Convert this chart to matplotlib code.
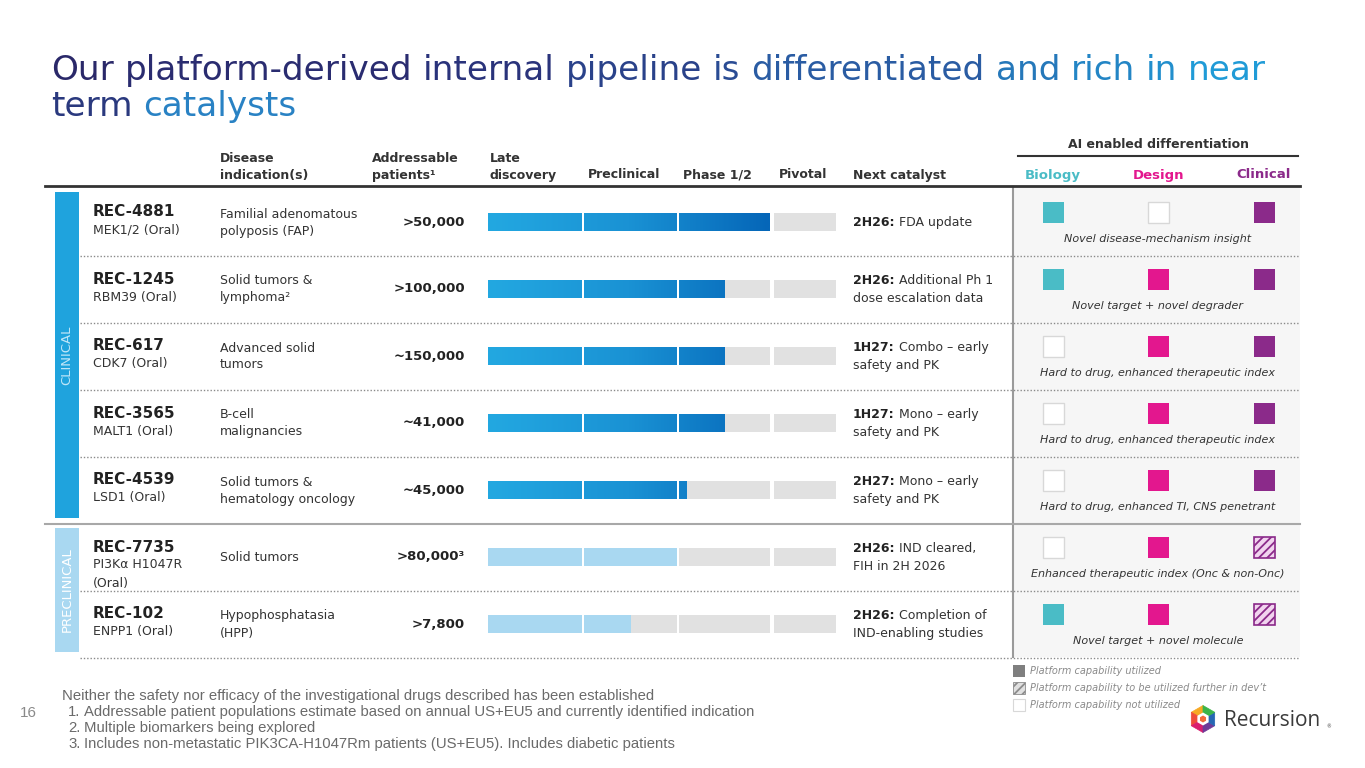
import matplotlib
matplotlib.use('Agg')
import matplotlib.pyplot as plt
import matplotlib.patches as mpatches
from matplotlib.colors import LinearSegmentedColormap
from matplotlib.font_manager import FontProperties
import numpy as np

# ---- data ----
title_lines = ['Our platform-derived internal pipeline is differentiated and rich in near',
               'term catalysts']
names = ['REC-4881', 'REC-1245', 'REC-617', 'REC-3565', 'REC-4539', 'REC-7735', 'REC-102']
targets = [['MEK1/2 (Oral)'], ['RBM39 (Oral)'], ['CDK7 (Oral)'], ['MALT1 (Oral)'],
           ['LSD1 (Oral)'], ['PI3Kα H1047R', '(Oral)'], ['ENPP1 (Oral)']]
indications = [['Familial adenomatous', 'polyposis (FAP)'], ['Solid tumors &', 'lymphoma²'],
               ['Advanced solid', 'tumors'], ['B-cell', 'malignancies'],
               ['Solid tumors &', 'hematology oncology'], ['Solid tumors'],
               ['Hypophosphatasia', '(HPP)']]
patients = ['>50,000', '>100,000', '~150,000', '~41,000', '~45,000', '>80,000³', '>7,800']
stages = ['Late\ndiscovery', 'Preclinical', 'Phase 1/2', 'Pivotal']
# progress measured in stages completed (1 = late discovery done, ...)
progress = [3.0, 2.5, 2.5, 2.5, 2.08, 2.0, 1.5]
is_clinical = [True, True, True, True, True, False, False]
catalyst_when = ['2H26:', '2H26:', '1H27:', '1H27:', '2H27:', '2H26:', '2H26:']
catalyst_what = [['FDA update'], ['Additional Ph 1', 'dose escalation data'],
                 ['Combo – early', 'safety and PK'], ['Mono – early', 'safety and PK'],
                 ['Mono – early', 'safety and PK'], ['IND cleared,', 'FIH in 2H 2026'],
                 ['Completion of', 'IND-enabling studies']]
# 1 = utilized, 0 = not utilized, 2 = to be utilized further in dev't
biology = [1, 1, 0, 0, 0, 0, 1]
design = [0, 1, 1, 1, 1, 1, 1]
clinical = [1, 1, 1, 1, 1, 2, 2]
captions = ['Novel disease-mechanism insight', 'Novel target + novel degrader',
            'Hard to drug, enhanced therapeutic index', 'Hard to drug, enhanced therapeutic index',
            'Hard to drug, enhanced TI, CNS penetrant', 'Enhanced therapeutic index (Onc & non-Onc)',
            'Novel target + novel molecule']
footnotes = ['Neither the safety nor efficacy of the investigational drugs described has been established',
             'Addressable patient populations estimate based on annual US+EU5 and currently identified indication',
             'Multiple biomarkers being explored',
             'Includes non-metastatic PIK3CA-H1047Rm patients (US+EU5). Includes diabetic patients']
legend_labels = ['Platform capability utilized', 'Platform capability to be utilized further in dev’t',
                 'Platform capability not utilized']

# ---- style ----
TXT = '#333333'
BLUE = '#1fa3dd'
LIGHTBLUE = '#a9d8f1'
GREY_BAR = '#e1e1e1'
TEAL = '#4abcc6'
PINK = '#e3178e'
PURPLE = '#8b2a8a'
plt.rcParams['font.family'] = 'DejaVu Sans'
plt.rcParams['hatch.linewidth'] = 1.3

fig = plt.figure(figsize=(13.65, 7.68), dpi=100)
ax = fig.add_axes([0, 0, 1, 1])
ax.set_xlim(0, 1365)
ax.set_ylim(768, 0)
ax.axis('off')
renderer = fig.canvas.get_renderer()

row_y = 222 + 67 * np.arange(len(names))
stage_left = [488, 584, 679, 774]
stage_width = [94, 93, 91, 62]
bar_h = 18


def text_w(s, size, weight='normal'):
    # width in pixels (figure is 1 px per data unit)
    fp = FontProperties(family='DejaVu Sans', size=size, weight=weight)
    return renderer.get_text_width_height_descent(s, fp, ismath=False)[0]


# title, word by word along a navy -> blue gradient
title_cmaps = [LinearSegmentedColormap.from_list('t1', ['#2a2868', '#2a2f78', '#2a5aa2', '#1fa2dc']),
               LinearSegmentedColormap.from_list('t2', ['#2a2868', '#2a4a95', '#2a80c2', '#1fa2dc'])]
tsize = 22 * (1265 - 51) / text_w(title_lines[0], 22)
for line, base, cm in zip(title_lines, [80, 116], title_cmaps):
    words = line.split(' ')
    full = text_w(line, tsize)
    for k, wd in enumerate(words):
        if k == 0:
            xw = 0
        else:
            xw = text_w(' '.join(words[:k]) + ' ' + wd, tsize) - text_w(wd, tsize)
        mid = xw + text_w(wd, tsize) / 2
        ax.text(51 + xw, base, wd, fontsize=tsize, va='baseline', color=cm(mid / full))

# right panel background + frame lines
ax.add_patch(mpatches.Rectangle((1014, 187), 286, 470, facecolor='#f6f6f6', edgecolor='none', zorder=0))
ax.plot([1013, 1013], [187, 657], color='#9a9a9a', lw=1.5, zorder=1)
ax.plot([45, 1300], [186, 186], color='#333333', lw=2, zorder=2)
ax.plot([1018, 1298], [156, 156], color='#333333', lw=1.5, zorder=2)
for i, y in enumerate(row_y):
    yl = y + 34
    if i == 4:
        ax.plot([45, 1300], [yl, yl], color='#a8a8a8', lw=1.5, zorder=1)
    else:
        ax.plot([80, 1300], [yl, yl], color='#8a8a8a', lw=1, ls=(0, (1, 1.4)), zorder=1)

# side bands
ax.add_patch(mpatches.Rectangle((55, 192), 24, 326, facecolor=BLUE, edgecolor='none'))
ax.text(67, 355, 'CLINICAL', rotation=90, ha='center', va='center', fontsize=9.5,
        color='#bfe6f8')
ax.add_patch(mpatches.Rectangle((55, 528), 24, 124, facecolor=LIGHTBLUE, edgecolor='none'))
ax.text(67, 590, 'PRECLINICAL', rotation=90, ha='center', va='center', fontsize=9.5,
        color='#ffffff')

# headers
hdr = dict(fontsize=9, fontweight='bold', color=TXT, va='center')
ax.text(220, 158, 'Disease', **hdr)
ax.text(220, 175, 'indication(s)', **hdr)
ax.text(372, 158, 'Addressable', **hdr)
ax.text(372, 175, 'patients¹', **hdr)
ax.text(490, 158, 'Late', **hdr)
ax.text(490, 175, 'discovery', **hdr)
ax.text(588, 175, stages[1], **hdr)
ax.text(683, 175, stages[2], **hdr)
ax.text(779, 175, stages[3], **hdr)
ax.text(853, 175, 'Next catalyst', **hdr)
ax.text(1158, 144, 'AI enabled differentiation', ha='center', va='center', fontsize=9,
        fontweight='bold', color=TXT)
col_x = [1053, 1158, 1264]
for cx, lab, c in zip(col_x, ['Biology', 'Design', 'Clinical'], [TEAL, PINK, PURPLE]):
    ax.text(cx, 175, lab, ha='center', va='center', fontsize=9.5, fontweight='bold', color=c)

bar_cmap = LinearSegmentedColormap.from_list('b', ['#23a8e1', '#1a92d4', '#0566b8'])

for i, y in enumerate(row_y):
    # program name + target
    ax.text(93, y - 10, names[i], fontsize=11, fontweight='bold', color='#222222', va='center')
    for k, t in enumerate(targets[i]):
        ax.text(93, y + 8 + 18 * k, t, fontsize=9, color=TXT, va='center')
    # indication
    n = len(indications[i])
    for k, t in enumerate(indications[i]):
        ax.text(220, y + 0.5 + 17 * (k - (n - 1) / 2), t, fontsize=9, color=TXT, va='center')
    # patients
    ax.text(465, y, patients[i], fontsize=9.5, fontweight='bold', color='#222222',
            ha='right', va='center')
    # stage bars
    for j in range(4):
        ax.barh(y, stage_width[j], left=stage_left[j], height=bar_h, color=GREY_BAR, zorder=2)
        fill = np.clip(progress[i] - j, 0, 1) * stage_width[j]
        if fill <= 0:
            continue
        if is_clinical[i]:
            b = ax.barh(y, fill, left=stage_left[j], height=bar_h, color='none', zorder=3)[0]
            x0, x1 = stage_left[j], stage_left[j] + fill
            g = np.linspace((x0 - 488) / 282, (x1 - 488) / 282, 64).reshape(1, -1)
            im = ax.imshow(g, cmap=bar_cmap, vmin=0, vmax=1, aspect='auto',
                           extent=[x0, x1, y + bar_h / 2, y - bar_h / 2], zorder=3)
            im.set_clip_path(b)
        else:
            ax.barh(y, fill, left=stage_left[j], height=bar_h, color=LIGHTBLUE, zorder=3)
    # next catalyst
    lines = catalyst_what[i]
    n = len(lines)
    for k, t in enumerate(lines):
        yy = y + 0.5 + 18 * (k - (n - 1) / 2)
        if k == 0:
            ax.text(853, yy, catalyst_when[i], fontsize=9, fontweight='bold',
                    color='#222222', va='center')
            adv = text_w(catalyst_when[i] + ' M', 9, 'bold') - text_w('M', 9, 'bold')
            ax.text(853 + adv, yy, t, fontsize=9, color=TXT, va='center')
        else:
            ax.text(853, yy, t, fontsize=9, color=TXT, va='center')
    # AI squares
    for cx, val, c in zip(col_x, [biology[i], design[i], clinical[i]], [TEAL, PINK, PURPLE]):
        sq = (cx - 10.5, y - 20.5)
        if val == 1:
            ax.add_patch(mpatches.Rectangle(sq, 21, 21, facecolor=c, edgecolor='none', zorder=3))
        elif val == 2:
            ax.add_patch(mpatches.Rectangle(sq, 21, 21, facecolor='#f1d4ef', edgecolor=c,
                                            hatch='////', lw=1.2, zorder=3))
        else:
            ax.add_patch(mpatches.Rectangle(sq, 21, 21, facecolor='white', edgecolor='#d8d8d8',
                                            lw=1, zorder=3))
    ax.text(1158, y + 17, captions[i], fontsize=8, style='italic', color='#333333',
            ha='center', va='center')

# legend
leg_y = [671, 688, 705]
ax.add_patch(mpatches.Rectangle((1013, leg_y[0] - 6), 12, 12, facecolor='#7f7f7f', edgecolor='none'))
ax.add_patch(mpatches.Rectangle((1013, leg_y[1] - 6), 12, 12, facecolor='#e0e0e0', edgecolor='#8c8c8c',
                                hatch='////', lw=0.6))
ax.add_patch(mpatches.Rectangle((1013, leg_y[2] - 6), 12, 12, facecolor='white', edgecolor='#d8d8d8',
                                lw=0.8))
for yy, lab in zip(leg_y, legend_labels):
    ax.text(1030, yy, lab, fontsize=7, style='italic', color='#8a8a8a', va='center')

# footnotes
fn = dict(family='Liberation Sans', fontsize=10.7, color='#6a6a6a', va='center')
ax.text(62, 696, footnotes[0], **fn)
for k in range(1, 4):
    ax.text(68, 696 + 16 * k, f'{k}.', **fn)
    ax.text(84, 696 + 16 * k, footnotes[k], **fn)
ax.text(20, 713, '16', family='Liberation Sans', fontsize=11, color='#8a8a8a', va='center')

# logo
cxl, cyl, r = 1203, 719, 13.5
hex_cols = ['#f7a823', '#ef4b3a', '#d91e6e', '#6f3a97', '#2667b4', '#3bb54a']
for k in range(6):
    a0 = np.deg2rad(90 + 60 * k)
    a1 = np.deg2rad(90 + 60 * (k + 1))
    pts = [(cxl, cyl), (cxl + r * np.cos(a0), cyl - r * np.sin(a0)),
           (cxl + r * np.cos(a1), cyl - r * np.sin(a1))]
    ax.add_patch(mpatches.Polygon(pts, closed=True, facecolor=hex_cols[k], edgecolor=hex_cols[k],
                                  lw=0.5))
ax.add_patch(mpatches.RegularPolygon((cxl, cyl), 6, radius=6.5, facecolor='white', edgecolor='none'))
ax.add_patch(mpatches.RegularPolygon((cxl, cyl), 6, radius=3.5, facecolor='#f26b3a', edgecolor='none'))
ax.text(1224, 720, 'Recursion', family='Open Sans', fontsize=15, color='#3a3a3a', va='center')
ax.text(1326, 727, '®', fontsize=3.5, color='#3a3a3a', va='center')

ax.set_xlim(0, 1365)
ax.set_ylim(768, 0)
fig.savefig('out.png', dpi=100, facecolor='white')
